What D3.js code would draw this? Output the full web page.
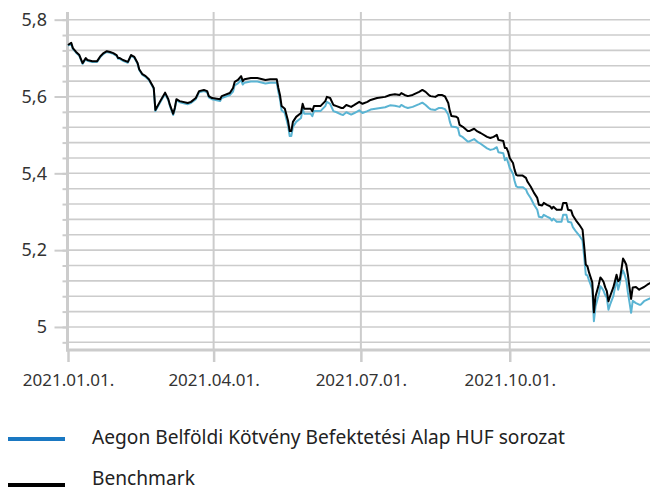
<!DOCTYPE html>
<html>
<head>
<meta charset="utf-8">
<script src="https://cdn.jsdelivr.net/npm/d3@7"></script>
<style>
  body { margin: 0; background: #fff; }
  svg { display: block; font-family: "Noto Sans", sans-serif; }
</style>
</head>
<body>
<div id="chart"></div>
<script>
// dates of the observations (2021)
const dates = [
  "01-01","01-03","01-04","01-06","01-08","01-10","01-12","01-13","01-16","01-19",
  "01-21","01-23","01-25","01-27","01-29","01-31","02-01","02-02","02-04","02-07",
  "02-09","02-11","02-13","02-14","02-16","02-18","02-20","02-22","02-23","02-24",
  "02-27","03-02","03-04","03-05","03-07","03-08","03-09","03-11","03-16","03-18",
  "03-21","03-23","03-26","03-28","03-29","03-31","04-05","04-06","04-11","04-13",
  "04-14","04-16","04-18","04-19","04-20","04-24","04-28","05-03","05-06","05-10",
  "05-11","05-12","05-13","05-15","05-17","05-18","05-19","05-20","05-22","05-25",
  "05-26","05-27","05-31","06-01","06-02","06-06","06-09","06-10","06-12","06-14",
  "06-16","06-19","06-20","06-22","06-25","06-27","06-30","07-02","07-05","07-07",
  "07-11","07-16","07-19","07-22","07-25","07-26","07-28","07-30","08-02","08-06",
  "08-08","08-10","08-12","08-13","08-16","08-18","08-20","08-22","08-24","08-25",
  "08-26","08-29","08-30","08-31","09-02","09-05","09-06","09-09","09-11","09-13",
  "09-17","09-19","09-21","09-23","09-24","09-27","09-28","09-29","09-30","10-01",
  "10-03","10-04","10-05","10-06","10-09","10-11","10-12","10-14","10-16","10-18",
  "10-19","10-21","10-22","10-24","10-26","10-27","10-28","10-30","11-02","11-03",
  "11-05","11-06","11-08","11-09","11-11","11-13","11-15","11-16","11-17","11-18",
  "11-19","11-20","11-21","11-22","11-23","11-25","11-26","11-27","11-28","11-29",
  "11-30","12-01","12-02","12-04","12-05","12-06","12-07","12-08","12-09","12-10",
  "12-11","12-12","12-13","12-14","12-15","12-16","12-18","12-20","12-21","12-23",
  "12-25","12-27","12-31"
];

// Aegon Belföldi Kötvény Befektetési Alap HUF sorozat
const fundValues = [
  5.732,5.738,5.724,5.714,5.706,5.685,5.698,5.693,5.690,5.690,
  5.703,5.711,5.716,5.714,5.711,5.706,5.698,5.698,5.693,5.688,
  5.706,5.701,5.685,5.669,5.656,5.651,5.643,5.628,5.620,5.562,
  5.585,5.607,5.590,5.575,5.552,5.567,5.590,5.585,5.580,5.583,
  5.593,5.611,5.614,5.611,5.598,5.593,5.588,5.596,5.604,5.613,
  5.629,5.634,5.643,5.631,5.636,5.639,5.639,5.634,5.636,5.636,
  5.612,5.593,5.564,5.557,5.524,5.497,5.497,5.521,5.534,5.544,
  5.568,5.555,5.555,5.549,5.562,5.562,5.575,5.586,5.581,5.562,
  5.559,5.553,5.552,5.559,5.553,5.557,5.564,5.557,5.562,5.566,
  5.569,5.572,5.577,5.576,5.573,5.578,5.573,5.570,5.573,5.580,
  5.584,5.578,5.570,5.567,5.565,5.570,5.570,5.567,5.553,5.534,
  5.522,5.520,5.517,5.499,5.494,5.483,5.483,5.489,5.482,5.477,
  5.465,5.461,5.463,5.468,5.455,5.452,5.434,5.440,5.428,5.414,
  5.399,5.380,5.366,5.364,5.364,5.358,5.348,5.335,5.318,5.305,
  5.287,5.285,5.292,5.287,5.283,5.277,5.282,5.274,5.274,5.292,
  5.292,5.274,5.272,5.260,5.248,5.238,5.225,5.183,5.136,5.134,
  5.121,5.110,5.098,5.015,5.053,5.084,5.106,5.101,5.094,5.083,
  5.076,5.045,5.058,5.080,5.102,5.123,5.097,5.113,5.136,5.147,
  5.136,5.122,5.090,5.064,5.037,5.068,5.062,5.058,5.058,5.067,
  5.071,5.075,5.080
];

// Benchmark
const benchValues = [
  5.734,5.740,5.726,5.716,5.708,5.687,5.700,5.695,5.692,5.692,
  5.705,5.713,5.718,5.716,5.713,5.708,5.700,5.700,5.695,5.690,
  5.708,5.703,5.687,5.671,5.658,5.653,5.645,5.630,5.622,5.565,
  5.588,5.610,5.593,5.578,5.555,5.570,5.593,5.588,5.583,5.586,
  5.596,5.614,5.617,5.614,5.601,5.596,5.593,5.601,5.609,5.622,
  5.638,5.643,5.653,5.640,5.645,5.648,5.648,5.643,5.645,5.645,
  5.622,5.604,5.575,5.568,5.536,5.510,5.510,5.534,5.547,5.557,
  5.581,5.568,5.568,5.562,5.575,5.575,5.588,5.599,5.596,5.578,
  5.575,5.570,5.570,5.578,5.573,5.578,5.586,5.581,5.586,5.591,
  5.596,5.599,5.604,5.606,5.604,5.609,5.604,5.601,5.604,5.612,
  5.617,5.612,5.604,5.601,5.599,5.604,5.604,5.600,5.583,5.562,
  5.549,5.547,5.544,5.526,5.521,5.510,5.510,5.516,5.509,5.505,
  5.495,5.492,5.495,5.500,5.487,5.484,5.466,5.466,5.456,5.440,
  5.427,5.409,5.396,5.394,5.394,5.388,5.378,5.365,5.349,5.336,
  5.318,5.316,5.323,5.318,5.314,5.308,5.313,5.305,5.305,5.323,
  5.323,5.305,5.303,5.290,5.277,5.266,5.253,5.210,5.162,5.158,
  5.142,5.129,5.116,5.038,5.079,5.110,5.129,5.124,5.117,5.103,
  5.093,5.067,5.080,5.103,5.119,5.136,5.119,5.123,5.149,5.178,
  5.171,5.162,5.136,5.103,5.073,5.103,5.104,5.097,5.100,5.104,
  5.110,5.115,5.121
];

const yTicks = [5, 5.2, 5.4, 5.6, 5.8];
const xTicks = ["2021-01-01", "2021-04-01", "2021-07-01", "2021-10-01"];
const seriesNames = ["Aegon Belföldi Kötvény Befektetési Alap HUF sorozat", "Benchmark"];

const width = 650, height = 491;
const gridColor = "#cccccc";
const fundColor = "#5ab4d3";
const fundLegendColor = "#1a78c2";
const textColor = "#333333";

const parse = d3.timeParse("%Y-%m-%d");
const rows = dates.map((d, i) => ({
  date: parse("2021-" + d),
  fund: fundValues[i],
  bench: benchValues[i]
}));

const x = d3.scaleTime()
  .domain([parse("2021-01-01"), parse("2021-12-31")])
  .range([68, 657]);
const y = d3.scaleLinear()
  .domain([4.94, 5.82])
  .range([350, 12]);

const svg = d3.select("#chart").append("svg")
  .attr("width", width)
  .attr("height", height);

// horizontal grid every 0.04
const minorVals = d3.range(124, 146).map(d => d / 25);
svg.append("g").selectAll("line")
  .data(minorVals)
  .join("line")
  .attr("x1", 68).attr("x2", width)
  .attr("y1", d => y(d)).attr("y2", d => y(d))
  .attr("stroke", gridColor)
  .attr("stroke-width", 1.6);

// vertical grid at x ticks
svg.append("g").selectAll("line")
  .data(xTicks.map(parse))
  .join("line")
  .attr("x1", d => x(d)).attr("x2", d => x(d))
  .attr("y1", 12).attr("y2", 350)
  .attr("stroke", gridColor)
  .attr("stroke-width", 2);

// y axis: minor ticks, then major ticks with labels
svg.append("g")
  .attr("transform", "translate(67.5,0)")
  .call(d3.axisLeft(y).tickValues(minorVals).tickSize(5).tickFormat(""))
  .call(g => g.select(".domain").remove())
  .call(g => g.selectAll("line").attr("stroke", gridColor).attr("stroke-width", 2));

svg.append("g")
  .attr("transform", "translate(67.5,0)")
  .call(d3.axisLeft(y).tickValues(yTicks).tickSize(13).tickPadding(7.5)
    .tickFormat(d => String(d).replace(".", ",")))
  .call(g => g.select(".domain").remove())
  .call(g => g.selectAll("line").attr("stroke", gridColor).attr("stroke-width", 2))
  .call(g => g.selectAll("text")
    .attr("fill", textColor)
    .style("font-size", "18px")
    .style("font-family", "'Noto Sans', sans-serif"));

// x axis
svg.append("g")
  .attr("transform", "translate(0,350)")
  .call(d3.axisBottom(x).tickValues(xTicks.map(parse)).tickSize(12)
    .tickFormat(d3.timeFormat("%Y.%m.%d.")))
  .call(g => g.select(".domain").remove())
  .call(g => g.selectAll("line").attr("stroke", gridColor).attr("stroke-width", 2.5))
  .call(g => g.selectAll("text")
    .attr("y", 24)
    .attr("fill", textColor)
    .style("font-size", "17px")
    .style("font-family", "'Noto Sans', sans-serif"));

// axis lines
svg.append("line")
  .attr("x1", 67.5).attr("x2", 67.5).attr("y1", 12).attr("y2", 351.5)
  .attr("stroke", gridColor).attr("stroke-width", 3);
svg.append("line")
  .attr("x1", 66).attr("x2", width).attr("y1", 350).attr("y2", 350)
  .attr("stroke", gridColor).attr("stroke-width", 3);

// series
const fundLine = d3.line().x(d => x(d.date)).y(d => y(d.fund));
const benchLine = d3.line().x(d => x(d.date)).y(d => y(d.bench));

svg.append("path")
  .datum(rows)
  .attr("fill", "none")
  .attr("stroke", fundColor)
  .attr("stroke-width", 2)
  .attr("stroke-linejoin", "round")
  .attr("d", fundLine);

svg.append("path")
  .datum(rows)
  .attr("fill", "none")
  .attr("stroke", "#000")
  .attr("stroke-width", 2)
  .attr("stroke-linejoin", "round")
  .attr("d", benchLine);

// legend
const legend = svg.append("g");
const legendItems = [
  { name: seriesNames[0], color: fundLegendColor, y: 439, ty: 4.5 },
  { name: seriesNames[1], color: "#000", y: 485, ty: 0 }
];
const items = legend.selectAll("g")
  .data(legendItems)
  .join("g")
  .attr("transform", d => "translate(0," + d.y + ")");
items.append("line")
  .attr("x1", 8).attr("x2", 65)
  .attr("stroke", d => d.color)
  .attr("stroke-width", 4);
const texts = items.append("text")
  .attr("x", 92)
  .attr("y", d => d.ty)
  .attr("fill", "#222")
  .style("font-size", "20px")
  .text(d => d.name);

// squeeze legend text to the condensed look of the original
const natural = texts.nodes()[0].getComputedTextLength();
const ratio = 473 / natural;
texts.each(function() {
  const len = this.getComputedTextLength();
  d3.select(this)
    .attr("textLength", len * ratio)
    .attr("lengthAdjust", "spacingAndGlyphs");
});
</script>
</body>
</html>
